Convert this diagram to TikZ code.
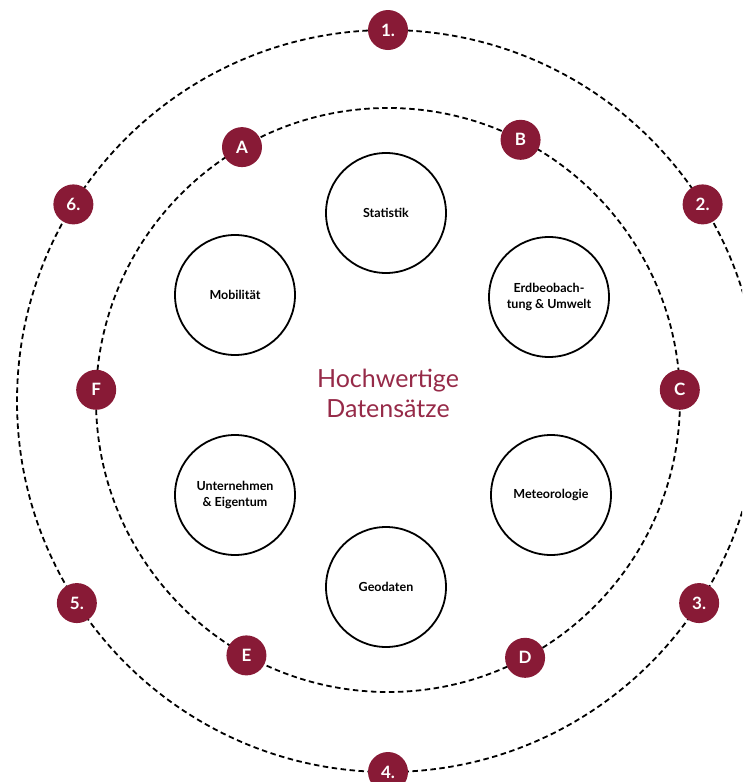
\documentclass[tikz,border=0pt]{standalone}
\usepackage{fontspec}
\setmainfont{Lato}
\usetikzlibrary{calc}
\definecolor{weinrot}{RGB}{136,26,54}
\definecolor{titelrot}{RGB}{150,42,72}
\tikzset{
  ring/.style={draw=black, dash pattern=on 5.5pt off 3.5pt, line width=1.8pt},
  thema/.style={circle, draw=black, line width=1.8pt, minimum size=120pt, inner sep=0pt, align=center, font=\fontsize{12.5}{15.5}\selectfont\bfseries},
  marke/.style={circle, fill=weinrot, text=white, minimum size=40pt, inner sep=0pt, font=\fontsize{17}{17}\selectfont\bfseries}
}

\begin{document}
\begin{tikzpicture}[x=1pt,y=1pt]
\useasboundingbox (0,0) rectangle (742,-782);
\clip (0,0) rectangle (742,-782);
% die beiden gestrichelten Ringe
\coordinate (aussen) at (388,-401);
\coordinate (innen) at (388,-400);
\draw [ring] (aussen) circle (371pt);
\draw [ring] (innen) circle (292pt);
% Themenkreise
\node [thema] (statistik) at (386,-213) {Statistik};
\node [thema] (erdbeob) at (549,-297) {Erdbeobach-\\tung \& Umwelt};
\node [thema] (meteo) at (551,-495) {Meteorologie};
\node [thema] (geo) at (386,-587) {Geodaten};
\node [thema] (unternehmen) at (235,-495) {Unternehmen\\\& Eigentum};
\node [thema] (mobil) at (235,-295) {Mobilität};
\node [text=titelrot, font=\fontsize{25}{30}\selectfont, align=center] (titel) at (388,-393) {Hochwertige\\Datensätze};
% Marken am inneren Ring
\node [marke] (A) at ($(innen)+(120:292pt)$) {A};
\node [marke] (B) at ($(innen)+(63:292pt)$) {B};
\node [marke] (C) at ($(innen)+(2:292pt)$) {C};
\node [marke] (D) at ($(innen)+(-62:292pt)$) {D};
\node [marke] (E) at ($(innen)+(-119:292pt)$) {E};
\node [marke] (F) at ($(innen)+(178:292pt)$) {F};
% Marken am aeusseren Ring
\node [marke] (n1) at ($(aussen)+(90:371pt)$) {1.};
\node [marke] (n2) at ($(aussen)+(32:371pt)$) {2.};
\node [marke] (n3) at ($(aussen)+(-33:371pt)$) {3.};
\node [marke] (n4) at ($(aussen)+(-90:371pt)$) {4.};
\node [marke] (n5) at ($(aussen)+(-147:371pt)$) {5.};
\node [marke] (n6) at ($(aussen)+(148:371pt)$) {6.};
\end{tikzpicture}
\end{document}
